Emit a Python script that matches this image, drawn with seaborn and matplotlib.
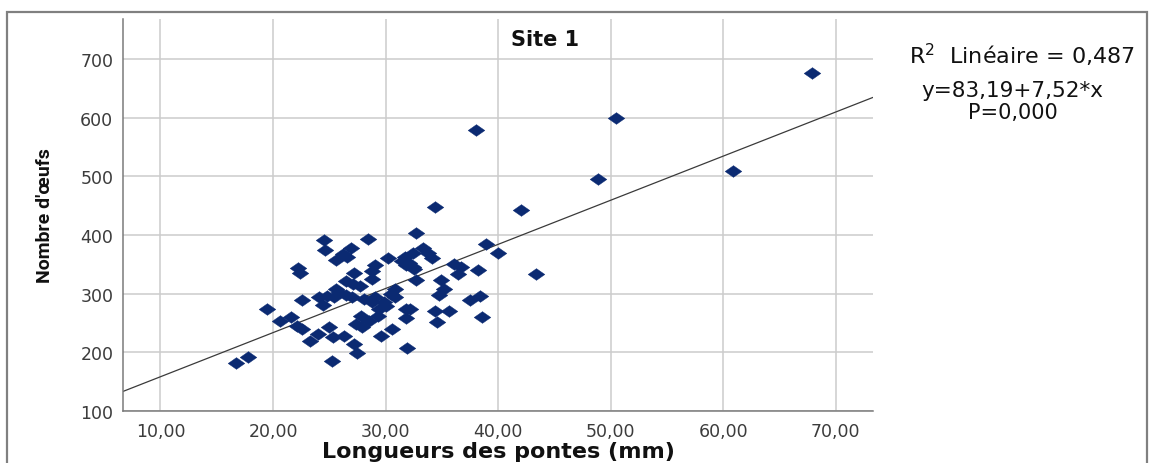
import numpy as np
import pandas as pd
import matplotlib
matplotlib.use("Agg")
import matplotlib.pyplot as plt
from matplotlib.path import Path
from matplotlib.patches import Rectangle
from matplotlib.ticker import FuncFormatter
import seaborn as sns

# ---- data ----
longueur = [16.7, 17.8, 19.5, 20.6, 21.6, 22.1, 22.6, 22.2, 22.4, 22.6,
            23.3, 24.5, 24.6, 24.1, 24.0, 24.4, 24.8, 25.0, 25.3, 25.2,
            25.4, 25.6, 25.9, 25.6, 26.2, 26.6, 26.9, 26.3, 26.5, 27.1,
            27.0, 27.2, 26.5, 27.2, 27.5, 27.7, 27.8, 27.4, 27.9, 28.1,
            28.4, 28.5, 28.8, 29.1, 29.1, 28.8, 28.8, 29.3, 29.6, 29.4,
            29.9, 30.0, 30.2, 30.5, 30.6, 30.8, 31.7, 31.5, 31.8, 32.1,
            32.4, 32.4, 32.5, 32.7, 32.7, 33.3, 33.8, 34.1, 34.4, 30.8,
            31.8, 31.8, 32.2, 31.9, 34.9, 35.2, 34.7, 34.4, 35.6, 34.6,
            36.1, 36.7, 36.4, 38.2, 37.5, 38.4, 38.6, 38.9, 40.0, 38.0,
            42.0, 43.4, 48.9, 50.5, 60.9, 67.9]
oeufs = [181, 192, 273, 254, 260, 245, 240, 343, 336, 289,
         220, 391, 375, 294, 231, 281, 296, 243, 226, 186,
         294, 308, 302, 357, 367, 362, 377, 228, 322, 316,
         294, 336, 298, 214, 198, 313, 262, 248, 243, 291,
         393, 254, 285, 294, 348, 339, 325, 262, 228, 274,
         285, 279, 360, 299, 240, 294, 362, 356, 348, 353,
         370, 345, 342, 403, 323, 378, 370, 361, 447, 308,
         274, 258, 274, 208, 323, 308, 298, 270, 270, 251,
         350, 346, 333, 340, 289, 296, 261, 385, 369, 578,
         442, 333, 495, 599, 509, 676]
intercept = 83.19
slope = 7.52
x_ticks = [10, 20, 30, 40, 50, 60, 70]
y_ticks = [100, 200, 300, 400, 500, 600, 700]
title = "Site 1"
x_label = "Longueurs des pontes (mm)"
y_label = "Nombre d'œufs"
annot_r2 = "R$^2$  Linéaire = 0,487"
annot_eq = "y=83,19+7,52*x"
annot_p = "P=0,000"

df = pd.DataFrame({"x": longueur, "y": oeufs})

sns.set_theme(style="white")
plt.rcParams["font.family"] = ["DejaVu Sans"]

W, H = 1150, 464
fig = plt.figure(figsize=(W / 100, H / 100), dpi=100)
ax = fig.add_axes([123 / W, 1 - 412 / H, 750 / W, 392 / H])

xlim = (6.67, 73.3)
ylim = (100, 768)
ax.set_xlim(*xlim)
ax.set_ylim(*ylim)

# grid
ax.set_xticks(x_ticks)
ax.set_yticks(y_ticks)
ax.grid(True, color="#cccccc", linewidth=1.1)
ax.set_axisbelow(True)

# regression line
line_x = np.array(xlim)
sns.lineplot(x=line_x, y=intercept + slope * line_x, ax=ax,
             color="#3a3a3a", linewidth=0.9, zorder=2)

# flattened diamond marker
diamond = Path([(-1, 0), (0, 0.7), (1, 0), (0, -0.7), (-1, 0)],
               [Path.MOVETO, Path.LINETO, Path.LINETO, Path.LINETO, Path.CLOSEPOLY])
sns.scatterplot(data=df, x="x", y="y", ax=ax, marker=diamond, s=145,
                color="#0b2a72", edgecolor="#0b2a72", linewidth=0.3, zorder=3)

# spines
for s in ["top", "right"]:
    ax.spines[s].set_visible(False)
for s in ["left", "bottom"]:
    ax.spines[s].set_color("#7a7a7a")
    ax.spines[s].set_linewidth(1.1)

ax.xaxis.set_major_formatter(FuncFormatter(lambda v, p: f"{v:.2f}".replace(".", ",")))
ax.tick_params(axis="both", length=0, labelsize=12.5, labelcolor="#3c3c3c")
ax.tick_params(axis="x", pad=8)
ax.tick_params(axis="y", pad=7)

ax.set_xlabel(x_label, fontsize=16, fontweight="bold", color="#111111")
ax.xaxis.set_label_coords(0.5, -0.076)
ax.set_ylabel(y_label, fontsize=14, fontweight="bold", color="#111111",
              family=["Roboto", "DejaVu Sans"])
ax.yaxis.set_label_coords(-0.092, 0.5)

ax.text((545 - 123) / 750, (412 - 40) / 392, title, transform=ax.transAxes,
        ha="center", va="center", fontsize=15, fontweight="bold", color="#111111")

# annotations on the right
fig.text(1022 / W, 1 - 55 / H, annot_r2, ha="center", va="center",
         fontsize=16, color="#111111")
fig.text(1012 / W, 1 - 91 / H, annot_eq, ha="center", va="center",
         fontsize=15.5, color="#111111")
fig.text(1013 / W, 1 - 113 / H, annot_p, ha="center", va="center",
         fontsize=15, color="#111111")

# outer frame
fig.patches.append(Rectangle((7 / W, -0.05), 1140 / W, 1.05 - 13 / H,
                             transform=fig.transFigure, fill=False,
                             edgecolor="#808080", linewidth=1.6))

fig.savefig("out.png", dpi=100)
